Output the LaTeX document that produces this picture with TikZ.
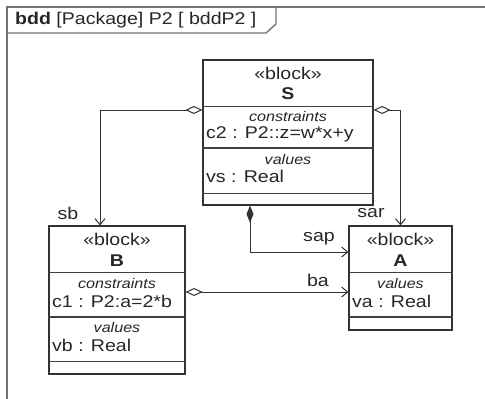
\documentclass[tikz,border=0pt]{standalone}
\usepackage{fontspec}
\setmainfont{Liberation Sans}[FakeStretch=1.15]
\usetikzlibrary{arrows.meta, positioning}

\begin{document}
\begin{tikzpicture}[x=1pt, y=-1pt,
    every node/.style={font=\fontsize{17}{19}\selectfont, inner sep=0pt, text=black!85},
    pkgframe/.style={draw=black!55, line width=1.4pt},
    block/.style={draw=black!80, line width=1.2pt, inner sep=0pt},
    compart/.style={draw=black!75, line width=0.9pt},
    kw/.style={font=\fontsize{14}{15}\selectfont\itshape},
    blockname/.style={font=\fontsize{17}{19}\selectfont\bfseries},
    conn/.style={draw=black!80, line width=1pt},
    aggr/.style={conn, {Diamond[open, length=17pt, width=8pt]}-{Straight Barb[length=6pt, width=10pt]}},
    comp/.style={conn, {Diamond[length=17pt, width=7pt]}-{Straight Barb[length=6pt, width=10pt]}}]
    \useasboundingbox (0,0) rectangle (485,399);

    % Frame
    \draw[pkgframe] (7,399) -- (7,7) -- (485,7);
    \draw[pkgframe] (7,33) -- (266,33) -- (276,24) -- (276,7);
    \node[anchor=west] (title) at (15,20) {\textbf{bdd} [Package] P2 [ bddP2 ]};

    % Blocks
    \node[block, minimum width=170pt, minimum height=145pt] (S) at (288,132.5) {};
    \node[block, minimum width=136pt, minimum height=148pt] (B) at (117,300) {};
    \node[block, minimum width=103pt, minimum height=104pt] (A) at (400.5,278) {};

    % Compartments
    \draw[compart] (S.west |- 0,106) -- (S.east |- 0,106);
    \draw[compart, line width=1.3pt] (S.west |- 0,148) -- (S.east |- 0,148);
    \draw[compart] (S.west |- 0,193) -- (S.east |- 0,193);
    \draw[compart] (B.west |- 0,272) -- (B.east |- 0,272);
    \draw[compart, line width=1.3pt] (B.west |- 0,317) -- (B.east |- 0,317);
    \draw[compart] (B.west |- 0,361) -- (B.east |- 0,361);
    \draw[compart] (A.west |- 0,272) -- (A.east |- 0,272);
    \draw[compart, line width=1.3pt] (A.west |- 0,317) -- (A.east |- 0,317);

    % Block S
    \node (Sst) at (288,73) {«block»};
    \node[blockname] (Sname) at (288,94) {S};
    \node[kw] (Skc) at (288,116) {constraints};
    \node[anchor=west] (Sc) at (206,134) {c2 : P2::z=w*x+y};
    \node[kw] (Skv) at (288,159) {values};
    \node[anchor=west] (Sv) at (206,176) {vs : Real};

    % Block B
    \node (Bst) at (117,239) {«block»};
    \node[blockname] (Bname) at (117,261) {B};
    \node[kw] (Bkc) at (117,283) {constraints};
    \node[anchor=west] (Bc) at (52,301) {c1 : P2:a=2*b};
    \node[kw] (Bkv) at (117,327) {values};
    \node[anchor=west] (Bv) at (52,345) {vb : Real};

    % Block A
    \node (Ast) at (400.5,239) {«block»};
    \node[blockname] (Aname) at (400.5,261) {A};
    \node[kw] (Akv) at (400.5,283) {values};
    \node[anchor=west] (Av) at (352,301) {va : Real};

    % Part associations
    \draw[aggr] ([yshift=22.5pt]S.west) -| ([xshift=-17pt]B.north);
    \draw[aggr] ([yshift=22.5pt]S.east) -| (A.north);
    \draw[comp] ([xshift=-38pt]S.south) |- ([yshift=26pt]A.west);
    \draw[aggr] ([yshift=8pt]B.east) -- ([yshift=8pt]B.east -| A.west);

    % Role labels
    \node (lsb) at (68,213) {sb};
    \node (lsar) at (371,213) {sar};
    \node (lsap) at (319,239) {sap};
    \node (lba) at (318,280) {ba};
\end{tikzpicture}
\end{document}
